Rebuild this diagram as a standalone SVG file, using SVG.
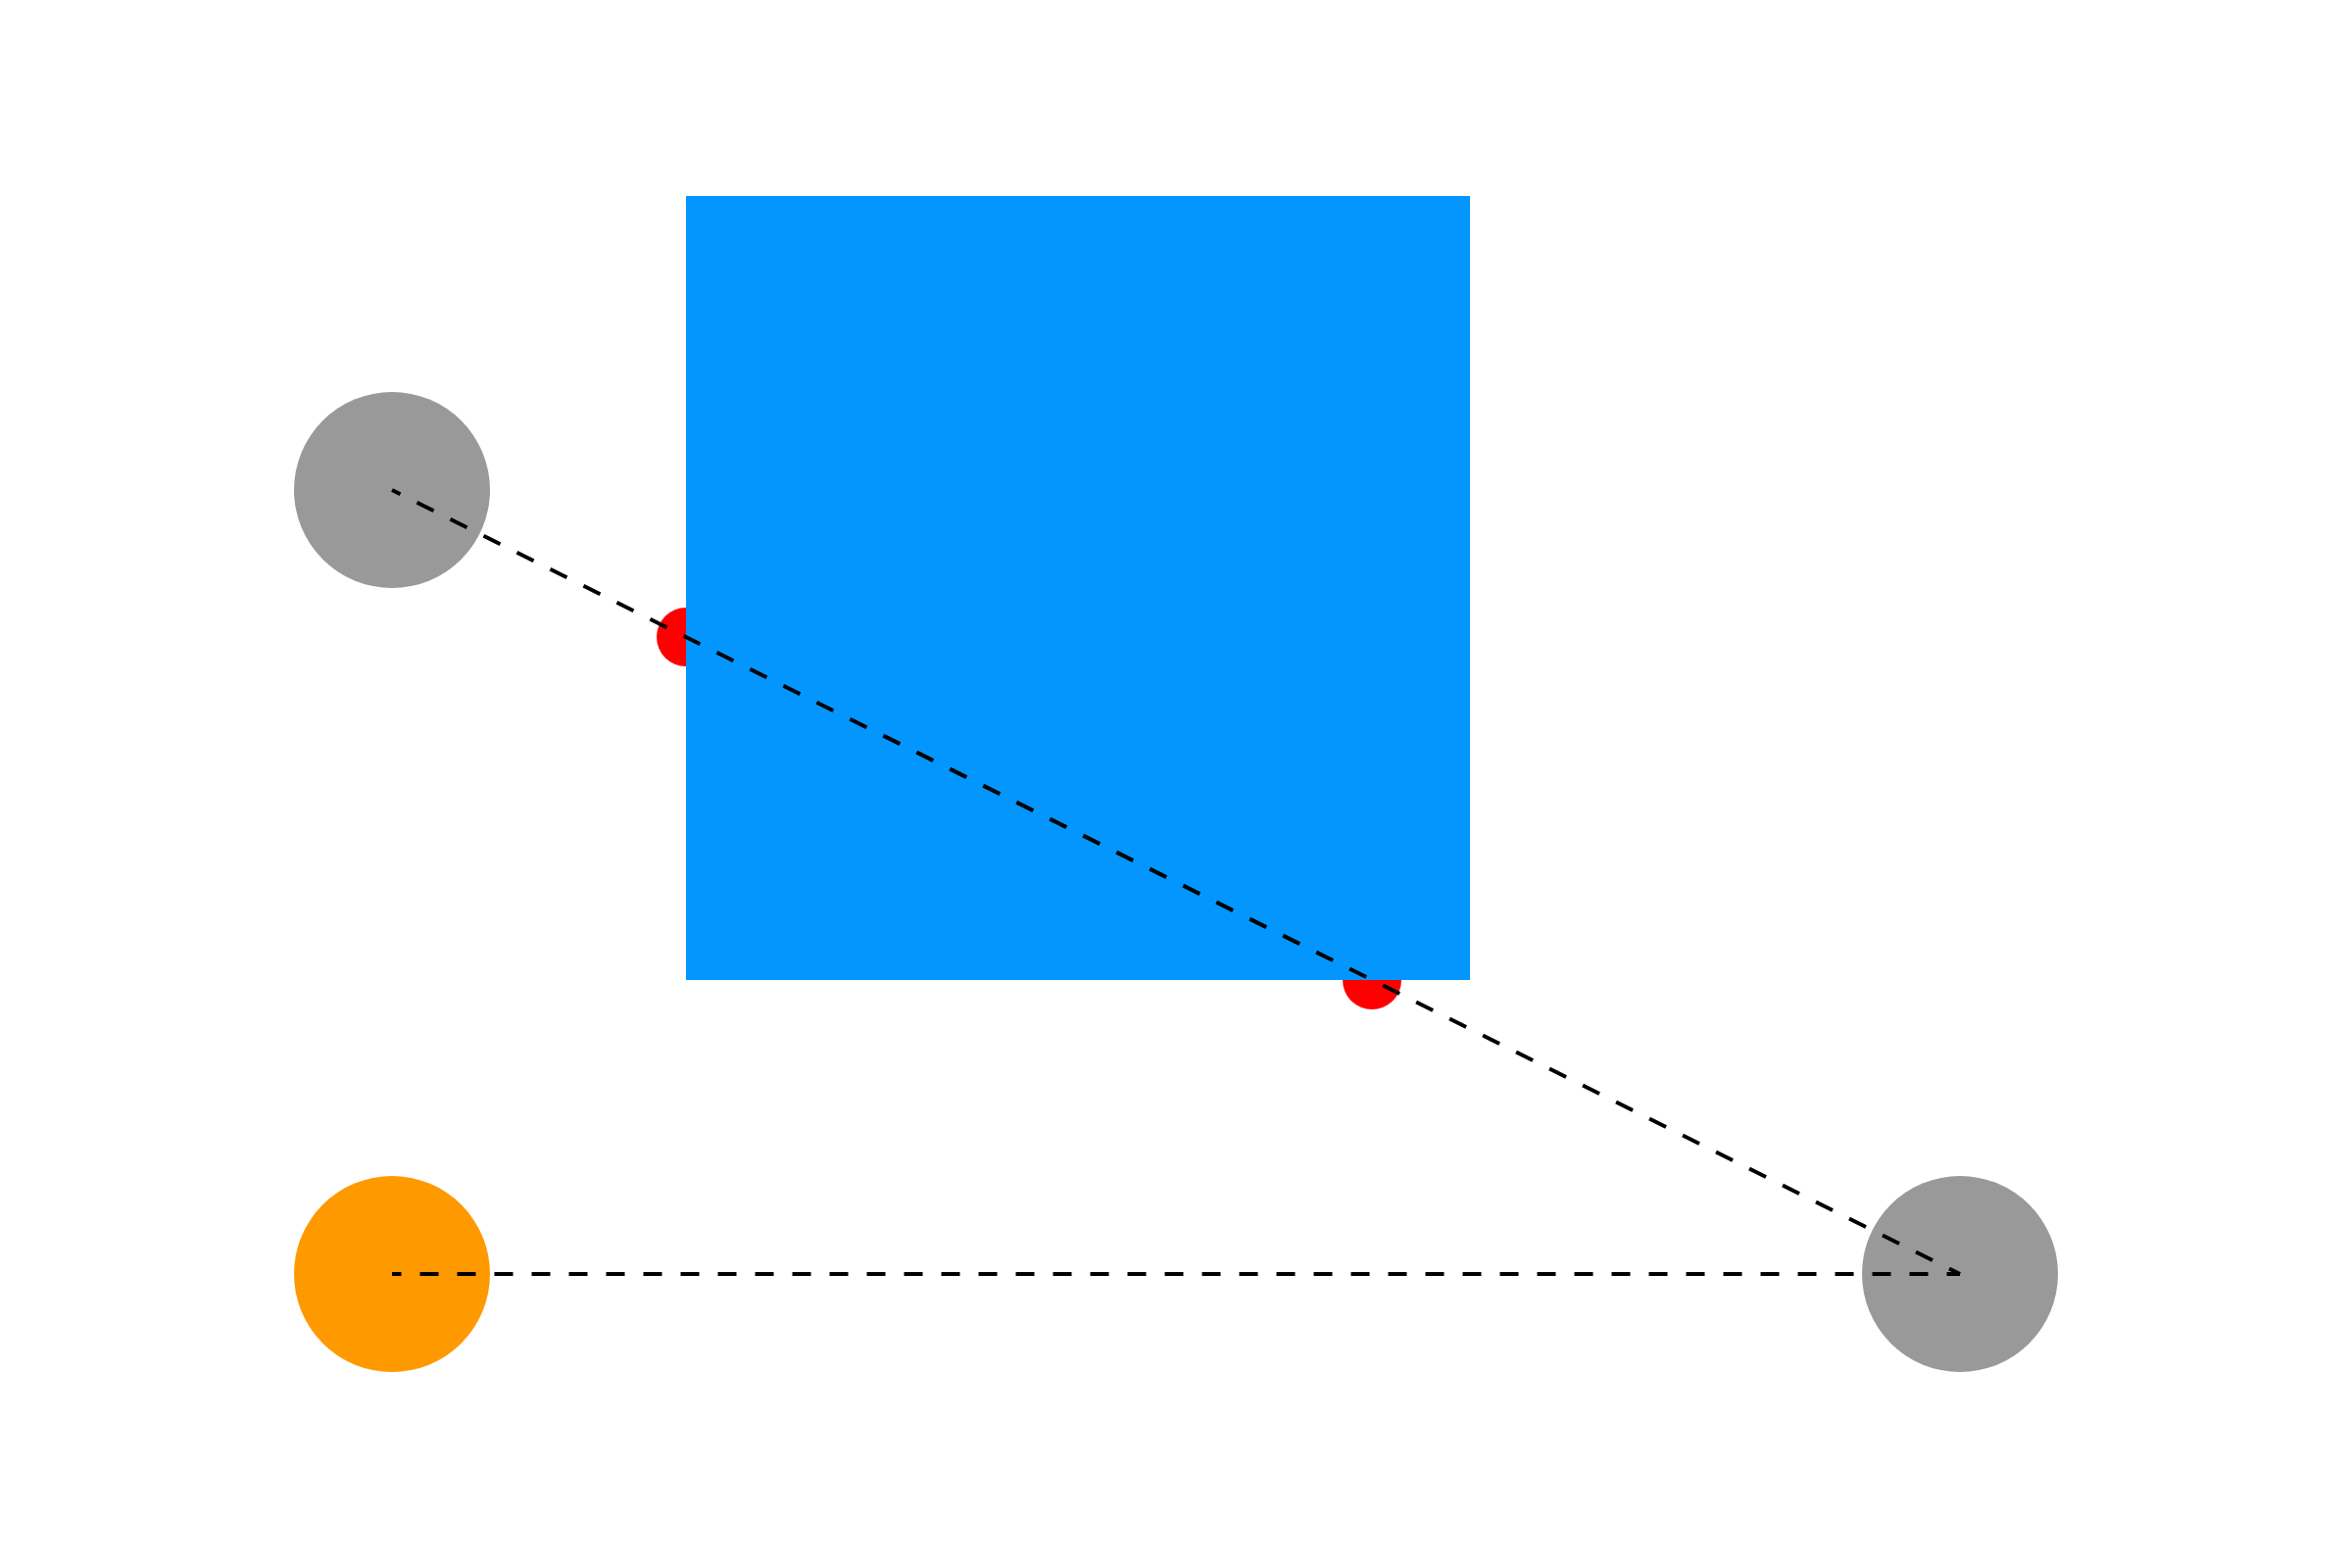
<svg xmlns="http://www.w3.org/2000/svg" width="2400" height="1600" viewBox="0 0 2400 1600">
<style>
.node{fill:#999999}
.dot{fill:#FF0000}
.conn{stroke:#000000;stroke-width:4;stroke-dasharray:19 19;stroke-dashoffset:9.5;fill:none}
</style>
<rect x="0" y="0" width="2400" height="1600" fill="#FFFFFF"/>
<g id="node-a"><circle class="node" cx="400" cy="500" r="100"/></g>
<g id="node-b"><circle cx="400" cy="1300" r="100" fill="#FF9900"/></g>
<g id="node-c"><circle class="node" cx="2000" cy="1300" r="100"/></g>
<g id="ports">
<circle class="dot" cx="700" cy="650" r="30"/>
<circle class="dot" cx="1400" cy="1000" r="30"/>
</g>
<g id="box"><rect x="700" y="200" width="800" height="800" fill="#0396FF"/></g>
<g id="connectors">
<line class="conn" x1="400" y1="500" x2="2000" y2="1300"/>
<line class="conn" x1="400" y1="1300" x2="2000" y2="1300"/>
</g>
</svg>
